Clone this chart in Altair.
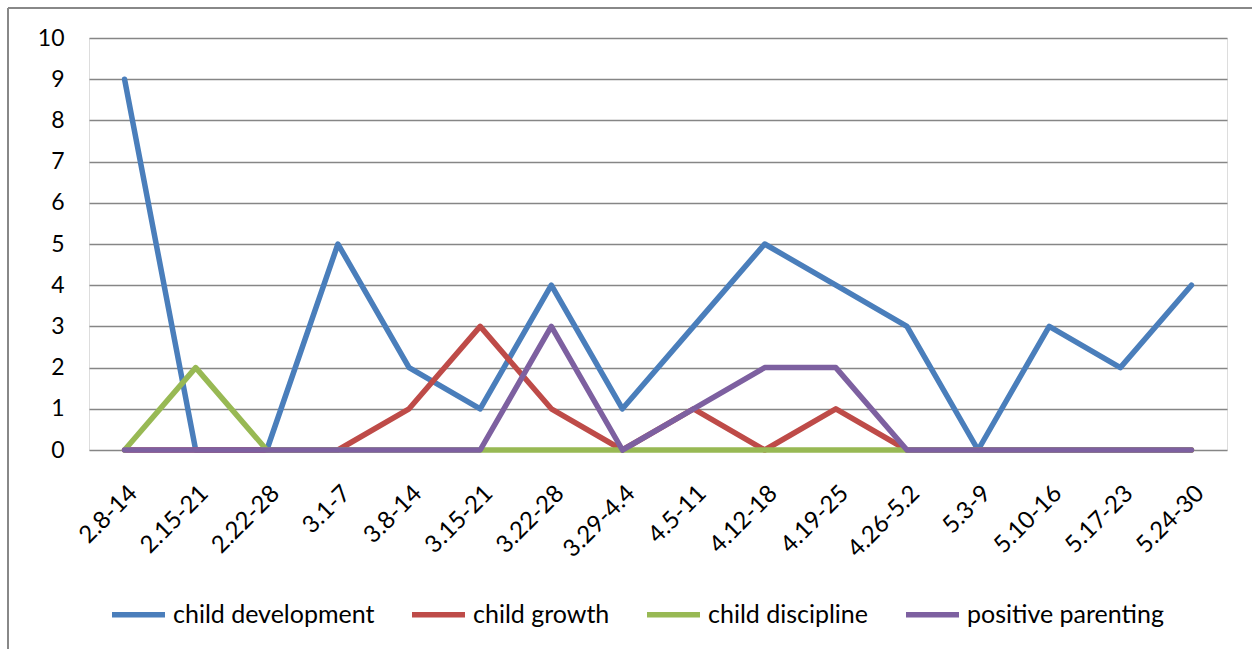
import altair as alt
import pandas as pd

# Weekly keyword counts
weeks = ["2.8-14", "2.15-21", "2.22-28", "3.1-7", "3.8-14", "3.15-21", "3.22-28",
         "3.29-4.4", "4.5-11", "4.12-18", "4.19-25", "4.26-5.2", "5.3-9",
         "5.10-16", "5.17-23", "5.24-30"]
series_names = ["child development", "child growth", "child discipline", "positive parenting"]
child_development = [9, 0, 0, 5, 2, 1, 4, 1, 3, 5, 4, 3, 0, 3, 2, 4]
child_growth = [0, 0, 0, 0, 1, 3, 1, 0, 1, 0, 1, 0, 0, 0, 0, 0]
child_discipline = [0, 2, 0, 0, 0, 0, 0, 0, 0, 0, 0, 0, 0, 0, 0, 0]
positive_parenting = [0, 0, 0, 0, 0, 0, 3, 0, 1, 2, 2, 0, 0, 0, 0, 0]
series_colors = ["#4A7EBB", "#BE4B48", "#98B954", "#7D60A0"]
y_ticks = list(range(0, 11))

rows = []
for name, vals in zip(series_names,
                      [child_development, child_growth, child_discipline, positive_parenting]):
    for w, v in zip(weeks, vals):
        rows.append({"week": w, "count": v, "series": name})
df = pd.DataFrame(rows)

FONT = "Lato"
W, H = 1138, 412

lines = alt.Chart(df).mark_line(
    strokeWidth=5.5, strokeCap="round", strokeJoin="round"
).encode(
    x=alt.X("week:N", sort=weeks, title=None,
            scale=alt.Scale(type="point", padding=0.5),
            axis=alt.Axis(labelAngle=-45, labelAlign="right", labelBaseline="top",
                          labelPadding=31, labelFontSize=24, labelFont=FONT,
                          labelColor="#000000", domain=False, ticks=False, grid=False)),
    y=alt.Y("count:Q", title=None,
            scale=alt.Scale(domain=[0, 10], nice=False),
            axis=alt.Axis(values=y_ticks, labelFontSize=23, labelFont=FONT,
                          labelColor="#000000", labelPadding=25, domain=False,
                          ticks=False, grid=True, gridColor="#868686", gridWidth=1.5)),
    color=alt.Color("series:N", sort=series_names,
                    scale=alt.Scale(domain=series_names, range=series_colors),
                    legend=alt.Legend(title=None, orient="none", direction="horizontal",
                                      legendX=20, legendY=547,
                                      symbolType="stroke", symbolSize=2809,
                                      symbolStrokeWidth=5.5, labelFontSize=25,
                                      labelFont=FONT, labelColor="#000000",
                                      labelOffset=5, columnPadding=26,
                                      labelLimit=400)),
    order=alt.Order("series:N"),
)

# Outer frame (top and left edges)
frame_top = alt.Chart(df).mark_rule(color="#888888", strokeWidth=2).encode(
    x=alt.value(-81), x2=alt.value(W + 30), y=alt.value(-30))
frame_left = alt.Chart(df).mark_rule(color="#888888", strokeWidth=2).encode(
    x=alt.value(-81), y=alt.value(-30), y2=alt.value(H + 240))

chart = alt.layer(lines, frame_top, frame_left).properties(
    width=W, height=H,
    autosize=alt.AutoSizeParams(type="none"),
    padding={"left": 89, "top": 38, "right": 25, "bottom": 199},
).configure_view(stroke=None).configure(background="#ffffff")

chart.save("out.html", embed_options={"renderer": "svg", "actions": False})
